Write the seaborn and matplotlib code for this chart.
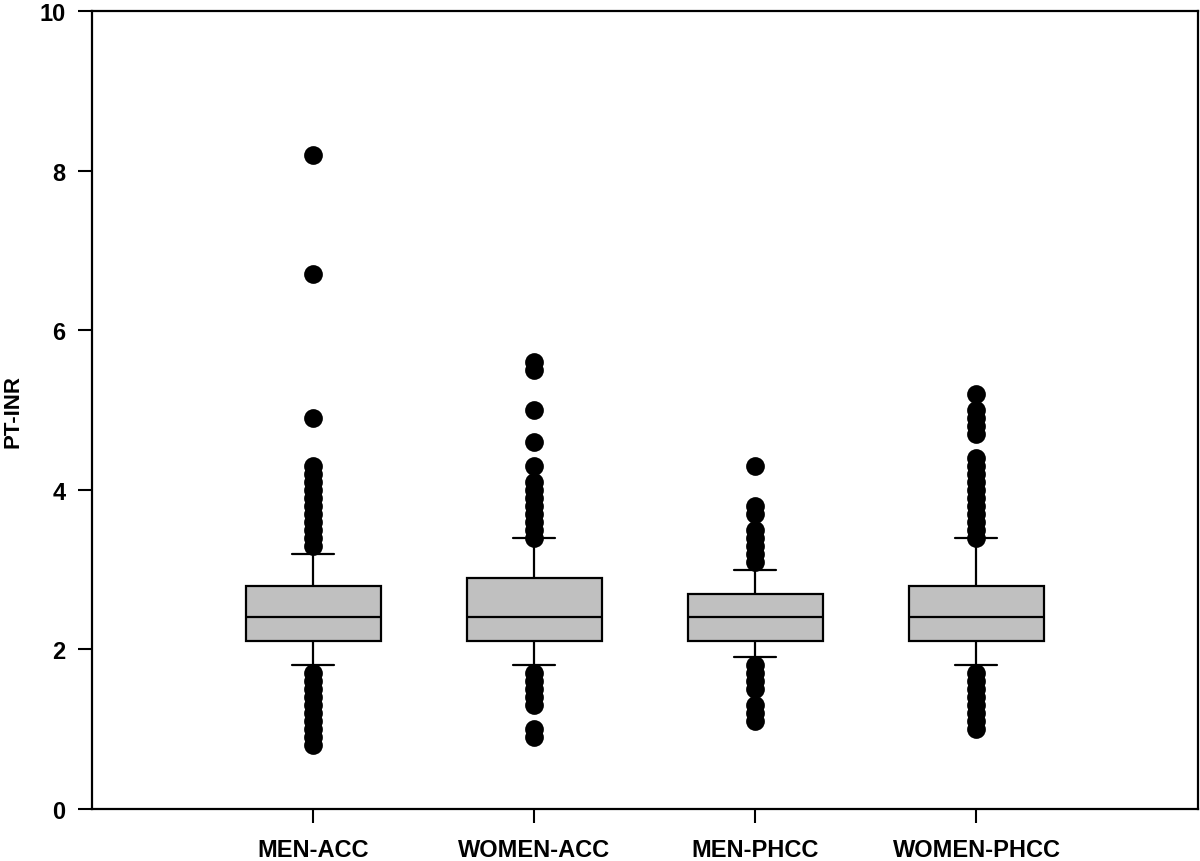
"""PT-INR box plots by sex and clinic type (10th/90th percentile whiskers)."""

import matplotlib

matplotlib.use("Agg")
import matplotlib.pyplot as plt
import numpy as np
import pandas as pd
import seaborn as sns

GROUPS = ["MEN-ACC", "WOMEN-ACC", "MEN-PHCC", "WOMEN-PHCC"]

# box statistics
WHISKER_LOW = [1.8, 1.8, 1.9, 1.8]
Q1 = [2.1, 2.1, 2.1, 2.1]
MEDIAN = [2.4, 2.4, 2.4, 2.4]
Q3 = [2.8, 2.9, 2.7, 2.8]
WHISKER_HIGH = [3.2, 3.4, 3.0, 3.4]

# points beyond the whiskers
OUTLIERS_MEN_ACC = [
    0.8, 0.9, 1.0, 1.1, 1.2, 1.3, 1.4, 1.5, 1.6, 1.7,
    3.3, 3.4, 3.5, 3.6, 3.7, 3.8, 3.9, 4.0, 4.1, 4.2, 4.3,
    4.9, 6.7, 8.2,
]
OUTLIERS_WOMEN_ACC = [
    0.9, 1.0, 1.3, 1.4, 1.5, 1.6, 1.7,
    3.4, 3.5, 3.6, 3.7, 3.8, 3.9, 4.0, 4.1,
    4.3, 4.6, 5.0, 5.5, 5.6,
]
OUTLIERS_MEN_PHCC = [
    1.1, 1.2, 1.3, 1.5, 1.6, 1.7, 1.8,
    3.1, 3.2, 3.3, 3.4, 3.5, 3.7, 3.8,
    4.3,
]
OUTLIERS_WOMEN_PHCC = [
    1.0, 1.1, 1.2, 1.3, 1.4, 1.5, 1.6, 1.7,
    3.4, 3.5, 3.6, 3.7, 3.8, 3.9, 4.0, 4.1, 4.2, 4.3, 4.4,
    4.7, 4.8, 4.9, 5.0, 5.2,
]
OUTLIERS = [OUTLIERS_MEN_ACC, OUTLIERS_WOMEN_ACC, OUTLIERS_MEN_PHCC, OUTLIERS_WOMEN_PHCC]

Y_TICKS = [0, 2, 4, 6, 8, 10]


def main() -> None:
    sns.set_style("ticks")
    plt.rcParams["font.family"] = ["Liberation Sans", "DejaVu Sans"]
    plt.rcParams["font.weight"] = "bold"
    plt.rcParams["axes.labelweight"] = "bold"
    plt.rcParams["text.color"] = "black"
    plt.rcParams["axes.labelcolor"] = "black"
    plt.rcParams["xtick.color"] = "black"
    plt.rcParams["ytick.color"] = "black"

    # five values per group give exactly the quartiles; whis=(0, 100) puts whiskers at min/max
    box_rows = []
    for i, g in enumerate(GROUPS):
        for v in (WHISKER_LOW[i], Q1[i], MEDIAN[i], Q3[i], WHISKER_HIGH[i]):
            box_rows.append({"group": g, "value": v})
    box_df = pd.DataFrame(box_rows)

    out_df = pd.DataFrame(
        [{"group": g, "value": v} for g, vals in zip(GROUPS, OUTLIERS) for v in vals]
    )

    fig = plt.figure(figsize=(12, 8.62), dpi=100)
    ax = fig.add_axes([0.0767, 0.0603, 0.9213, 0.9258])

    sns.boxplot(
        data=box_df, x="group", y="value", order=GROUPS,
        color="#c0c0c0", linecolor="black", linewidth=1.6, saturation=1,
        width=0.61, whis=(0, 100), showfliers=False, capwidths=0.19, ax=ax,
    )
    sns.stripplot(
        data=out_df, x="group", y="value", order=GROUPS,
        jitter=False, color="black", size=13.5, linewidth=0, ax=ax, zorder=3,
    )

    ax.set_xlim(-1, 4)
    ax.set_ylim(0, 10)
    ax.set_yticks(Y_TICKS)
    ax.set_yticklabels([str(t) for t in Y_TICKS])
    ax.set_xlabel("")
    ax.set_ylabel("PT-INR", fontsize=16)
    ax.yaxis.set_label_coords(-0.062, 0.5)

    for side in ("left", "right", "top", "bottom"):
        ax.spines[side].set_visible(True)
        ax.spines[side].set_linewidth(1.6)
        ax.spines[side].set_color("black")

    ax.tick_params(axis="both", direction="out", length=10, width=1.5,
                   color="black", labelcolor="black", labelsize=17)
    ax.tick_params(axis="x", pad=11)
    ax.tick_params(axis="y", pad=9)

    fig.savefig("out.png", dpi=100)
    plt.close(fig)


if __name__ == "__main__":
    main()
